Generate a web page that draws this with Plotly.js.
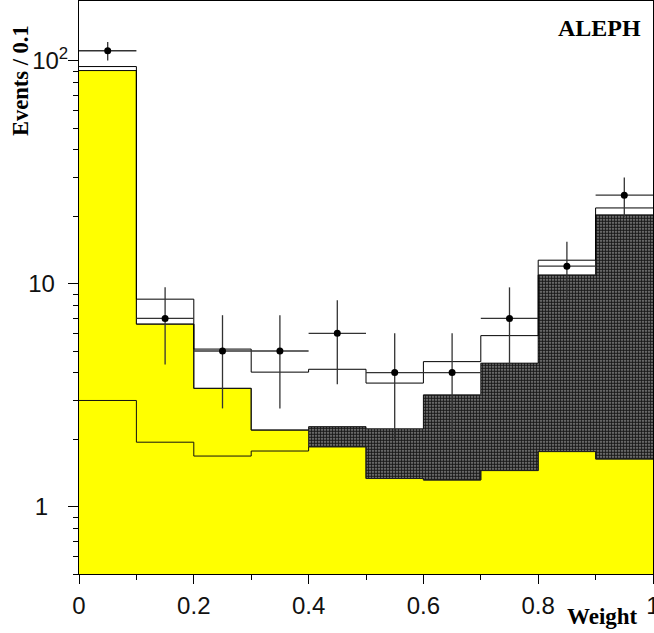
<!DOCTYPE html>
<html>
<head>
<meta charset="utf-8">
<script src="https://cdn.plot.ly/plotly-3.0.1.min.js"></script>
<style>html,body{margin:0;padding:0;background:#fff;}#plot{width:654px;height:633px;}</style>
</head>
<body>
<div id="plot"></div>
<script>
// Bin edges (Weight) and bin centres
const binEdges = [0, 0.1, 0.2, 0.3, 0.4, 0.5, 0.6, 0.7, 0.8, 0.9, 1.0];
// Observed events per bin
const dataCounts = [111, 7, 5, 5, 6, 4, 4, 7, 12, 25];
// Cumulative expectations
const lowLine    = [3.0, 1.95, 1.69, 1.78, 1.86, 1.34, 1.32, 1.455, 1.77, 1.64];
const yellowTop  = [90.5, 6.6, 3.4, 2.21, 1.86, 1.34, 1.32, 1.455, 1.77, 1.64];
const hatchedTop = [90.5, 6.6, 3.4, 2.21, 2.29, 2.24, 3.18, 4.41, 10.97, 20.4];
const totalTop   = [94.3, 8.54, 5.1, 4.02, 4.14, 3.59, 4.48, 5.86, 12.77, 21.9];
// Tick labels
const yTickVals = [1, 10, 100];
const yTickText = ['1\u00a0\u00a0\u00a0', '10\u00a0\u00a0', '10<sup>2</sup>'];

const centers = binEdges.slice(0, -1).map((e, i) => (e + binEdges[i + 1]) / 2);
const widths = binEdges.slice(0, -1).map((e, i) => binEdges[i + 1] - e);

function stepTrace(vals, color, width) {
  return {
    type: 'scatter', mode: 'lines',
    x: binEdges.slice(),
    y: vals.concat([vals[vals.length - 1]]),
    line: {shape: 'hv', color: color, width: width},
    hoverinfo: 'skip', showlegend: false
  };
}

const traces = [
  {
    type: 'bar', x: centers, y: hatchedTop, width: widths,
    marker: {color: '#444', line: {width: 0},
      pattern: {shape: '.', fgcolor: '#1a1a1a', bgcolor: '#9a9a9a', size: 3, solidity: 0.7, fillmode: 'replace'}},
    hoverinfo: 'skip', showlegend: false
  },
  {
    type: 'bar', x: centers, y: yellowTop, width: widths,
    marker: {color: '#ffff00', line: {width: 0}},
    hoverinfo: 'skip', showlegend: false
  },
  stepTrace(lowLine, '#111', 1),
  stepTrace(yellowTop, '#222', 1),
  stepTrace(hatchedTop, '#111', 1),
  stepTrace(totalTop, '#000', 1),
  {
    type: 'scatter', mode: 'markers',
    x: centers, y: dataCounts,
    marker: {color: '#000', size: 7, symbol: 'circle'},
    error_y: {type: 'sqrt', color: '#333', thickness: 1.3, width: 0},
    error_x: {type: 'constant', value: 0.05, color: '#333', thickness: 1.3, width: 0},
    hoverinfo: 'skip', showlegend: false
  }
];

const layout = {
  width: 654, height: 633,
  margin: {l: 79, r: 1, t: 1, b: 59},
  paper_bgcolor: '#fff', plot_bgcolor: '#fff',
  barmode: 'overlay', bargap: 0,
  showlegend: false,
  xaxis: {
    range: [0, 1], showgrid: false, zeroline: false,
    showline: true, linecolor: '#000', linewidth: 1, mirror: true,
    ticks: 'outside', ticklen: 9, tickcolor: '#000', tickwidth: 1,
    tick0: 0, dtick: 0.2,
    minor: {ticks: 'outside', ticklen: 5, dtick: 0.1, tick0: 0, tickcolor: '#000', showgrid: false},
    tickfont: {family: 'Liberation Sans, Arial, sans-serif', size: 24, color: '#111'},
    ticklabelstandoff: 1,
    ticklabeloverflow: 'allow',
    automargin: false, fixedrange: true
  },
  yaxis: {
    type: 'log', range: [Math.log10(0.5), 2.2685],
    showgrid: false, zeroline: false,
    showline: true, linecolor: '#000', linewidth: 1, mirror: true,
    ticks: 'outside', ticklen: 10, tickcolor: '#000', tickwidth: 1,
    tickmode: 'array', tickvals: yTickVals, ticktext: yTickText,
    minor: {ticks: 'outside', ticklen: 5, tickcolor: '#000', showgrid: false,
      tickvals: [0.5, 0.6, 0.7, 0.8, 0.9, 2, 3, 4, 5, 6, 7, 8, 9, 20, 30, 40, 50, 60, 70, 80, 90]},
    tickfont: {family: 'Liberation Sans, Arial, sans-serif', size: 24, color: '#111'},
    ticklabelstandoff: -5,
    automargin: false, fixedrange: true
  },
  annotations: [
    {text: '<b>ALEPH</b>', xref: 'paper', yref: 'paper', x: 0.982, y: 0.953,
     xanchor: 'right', yanchor: 'middle', showarrow: false,
     font: {family: 'Liberation Serif, Times New Roman, serif', size: 24, color: '#000'}},
    {text: '<b>Events / 0.1</b>', xref: 'paper', yref: 'paper', x: -0.103, y: 0.862,
     xanchor: 'center', yanchor: 'middle', textangle: -90, showarrow: false,
     font: {family: 'Liberation Serif, Times New Roman, serif', size: 22.5, color: '#000'}},
    {text: '<b>Weight</b>', xref: 'paper', yref: 'paper', x: 0.978, y: -0.075,
     xanchor: 'right', yanchor: 'middle', showarrow: false,
     font: {family: 'Liberation Serif, Times New Roman, serif', size: 23, color: '#000'}}
  ]
};

Plotly.newPlot('plot', traces, layout, {displayModeBar: false, staticPlot: true});
</script>
</body>
</html>
